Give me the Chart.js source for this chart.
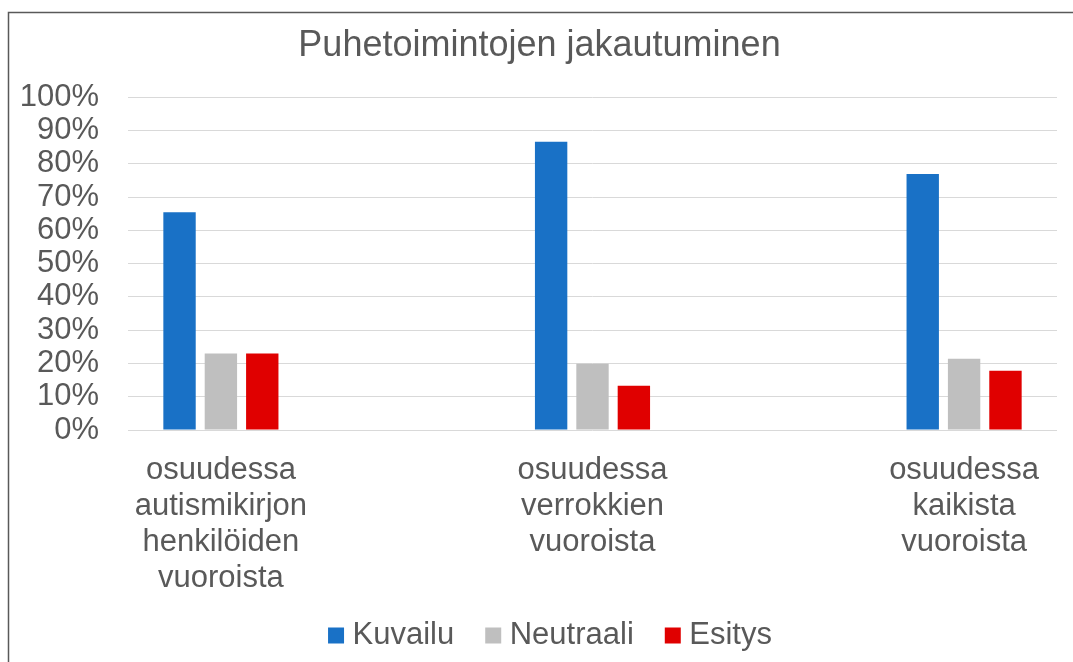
<!DOCTYPE html>
<html>
<head>
<meta charset="utf-8">
<script src="https://cdn.jsdelivr.net/npm/chart.js@4"></script>
<style>
  html, body { margin: 0; padding: 0; background: #fff; }
  #wrap { width: 1073px; height: 662px; }
</style>
</head>
<body>
<div id="wrap"><canvas id="chart"></canvas></div>
<script>
// category labels (already split into lines like the original)
const categories = [
  ['osuudessa', 'autismikirjon', 'henkilöiden', 'vuoroista'],
  ['osuudessa', 'verrokkien', 'vuoroista'],
  ['osuudessa', 'kaikista', 'vuoroista']
];
const seriesNames = ['Kuvailu', 'Neutraali', 'Esitys'];
const kuvailu = [65.4, 86.6, 76.9];
const neutraali = [23.0, 19.9, 21.4];
const esitys = [23.0, 13.3, 17.8];
const yMin = 0, yMax = 100, yStep = 10;

const textColor = '#595959';
const font = 'Liberation Sans, Arial, sans-serif';

// grey frame on the top and left edge, like the pasted Excel image
const frame = {
  id: 'frame',
  beforeDraw(chart) {
    const ctx = chart.ctx;
    ctx.save();
    ctx.fillStyle = '#fff';
    ctx.fillRect(0, 0, chart.width, chart.height);
    ctx.strokeStyle = '#595959';
    ctx.lineWidth = 1.5;
    ctx.beginPath();
    ctx.moveTo(8.5, chart.height);
    ctx.lineTo(8.5, 12.5);
    ctx.lineTo(chart.width, 12.5);
    ctx.stroke();
    ctx.restore();
  }
};

// Excel centres the legend a bit to the right of the plot,
// and the 4-line category label runs into the legend band
const tweakLayout = {
  id: 'tweakLayout',
  afterLayout(chart) {
    chart.legend.left += 14;
    chart.legend.right += 14;
    chart.scales.x.bottom += 30;
  }
};

const toPoints = arr => arr.map((v, i) => ({x: i, y: v}));

new Chart(document.getElementById('chart'), {
  type: 'bar',
  data: {
    datasets: [
      {label: seriesNames[0], data: toPoints(kuvailu), backgroundColor: '#1971C6'},
      {label: seriesNames[1], data: toPoints(neutraali), backgroundColor: '#BFBFBF'},
      {label: seriesNames[2], data: toPoints(esitys), backgroundColor: '#E00000'}
    ]
  },
  options: {
    responsive: true,
    maintainAspectRatio: false,
    animation: false,
    categoryPercentage: 0.334,
    barPercentage: 0.7826,
    layout: {padding: {left: 22, right: 16, top: 0, bottom: 1}},
    scales: {
      x: {
        type: 'linear',
        min: -0.25,
        max: 2.25,
        offset: false,
        grid: {display: false, offset: false},
        border: {display: false},
        afterBuildTicks: axis => { axis.ticks = categories.map((c, i) => ({value: i})); },
        afterFit: axis => { axis.height = 152; },
        ticks: {
          autoSkip: false,
          maxRotation: 0,
          padding: 14,
          color: textColor,
          font: {family: font, size: 31, lineHeight: 1.17},
          callback: v => categories[Math.round(v)]
        }
      },
      y: {
        min: yMin,
        max: yMax,
        grid: {color: '#D9D9D9', lineWidth: 1, drawTicks: false},
        border: {display: false},
        afterFit: axis => { axis.width = 106; },
        ticks: {
          stepSize: yStep,
          autoSkip: false,
          padding: 29,
          color: textColor,
          font: {family: font, size: 31},
          callback: v => v + '%'
        }
      }
    },
    plugins: {
      title: {
        display: true,
        text: 'Puhetoimintojen jakautuminen',
        color: textColor,
        font: {family: font, size: 36, weight: 'normal', lineHeight: 1.2},
        padding: {top: 24, bottom: 30}
      },
      legend: {
        position: 'bottom',
        labels: {
          usePointStyle: true,
          pointStyle: 'rect',
          boxWidth: 2,
          boxHeight: 16,
          padding: 38,
          color: textColor,
          font: {family: font, size: 31}
        }
      },
      tooltip: {enabled: false}
    }
  },
  plugins: [frame, tweakLayout]
});
</script>
</body>
</html>
